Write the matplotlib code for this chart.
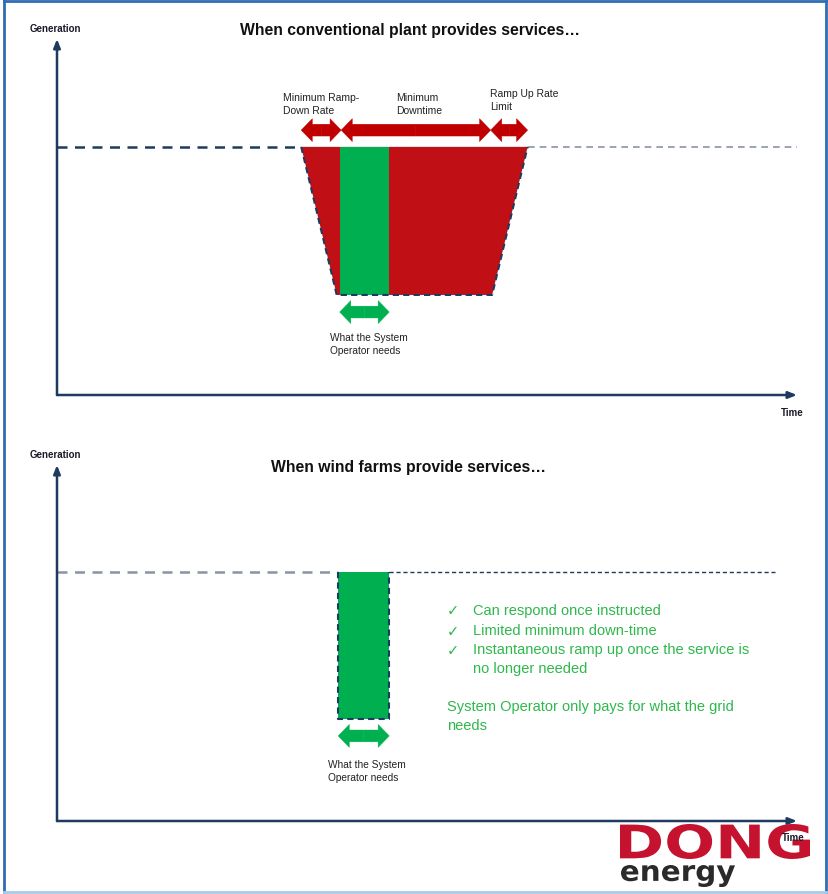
import matplotlib
matplotlib.use("Agg")
import matplotlib.pyplot as plt
from matplotlib.patches import FancyArrowPatch, Polygon, Rectangle, PathPatch
from matplotlib.textpath import TextPath
from matplotlib.font_manager import FontProperties
from matplotlib.transforms import Affine2D, IdentityTransform

plt.rcParams["font.family"] = ["Liberation Sans", "DejaVu Sans"]

W, H = 829, 895

# --- data (time 0..100, generation 0..100) ---
base_level = 69.7
low_level = 28.1
# conventional plant: trapezoid corners in time
conv_time = [33.0, 37.8, 58.8, 63.6]      # top-left, bottom-left, bottom-right, top-right
conv_service = [38.2, 44.9]               # what the system operator needs
conv_arrow_level = 74.4
conv_arrow_edges = [33.0, 38.4, 58.6, 63.6]
conv_labels = ["Minimum Ramp-\nDown Rate", "Minimum\nDowntime", "Ramp Up Rate\nLimit"]
conv_label_time = [30.6, 45.8, 58.5]
conv_label_gen = [81.9, 81.9, 83.0]

# wind farms
wind_level = 69.9
wind_low = 28.7
wind_service = [38.0, 44.9]
wind_base_end = 97.0
wind_points = ["Can respond once instructed",
               "Limited minimum down-time",
               "Instantaneous ramp up once the service is\nno longer needed"]
wind_point_gen = [59.3, 53.6, 45.6]
wind_check_gen = [59.3, 53.6, 48.3]
wind_note = "System Operator only pays for what the grid\nneeds"
wind_note_gen = 29.6

RED = "#C00000"
RED_FILL = "#C01016"
GREEN = "#00B050"
GREEN_TXT = "#2DB84C"
NAVY = "#1F3A5F"
GREY = "#8A93A5"


def px(x, y):
    return x / W, 1 - y / H


def make_axes(fig, top_px):
    left, bottom = px(57, top_px)
    ax = fig.add_axes([left, bottom, 740 / W, 356 / H])
    ax.set_xlim(0, 100)
    ax.set_ylim(0, 100)
    ax.axis("off")
    ax.annotate("", xy=(100, 0), xytext=(0, 0),
                arrowprops=dict(arrowstyle="-|>,head_length=0.5,head_width=0.2",
                                color=NAVY, lw=1.8, shrinkA=0, shrinkB=0))
    ax.annotate("", xy=(0, 100), xytext=(0, 0),
                arrowprops=dict(arrowstyle="-|>,head_length=0.5,head_width=0.2",
                                color=NAVY, lw=1.8, shrinkA=0, shrinkB=0))
    return ax


def block_arrow(ax, x0, x1, y, color, hw=16.5, tw=8.5, hl=8):
    mid = (x0 + x1) / 2
    for end in (x0, x1):
        ax.add_patch(FancyArrowPatch((mid, y), (end, y),
                                     arrowstyle="simple,head_width=%g,tail_width=%g,head_length=%g" % (hw, tw, hl),
                                     mutation_scale=1, color=color, lw=0.3, shrinkA=0, shrinkB=0,
                                     clip_on=False))


def fitted_text(fig, text, box, color, weight="bold"):
    # draw text as a path stretched into a pixel box (x0, y0, x1, y1), y from top
    tp = TextPath((0, 0), text, size=40, prop=FontProperties(family="DejaVu Sans", weight=weight))
    ext = tp.get_extents()
    x0, y0, x1, y1 = box
    sx = (x1 - x0) / ext.width
    sy = (y1 - y0) / ext.height
    tr = Affine2D().translate(-ext.x0, -ext.y0).scale(sx, sy).translate(x0, H - y1)
    fig.add_artist(PathPatch(tr.transform_path(tp), facecolor=color, edgecolor="none",
                             transform=IdentityTransform()))


fig = plt.figure(figsize=(W / 100, H / 100), dpi=100)
fig.patch.set_facecolor("white")

# ---------- top panel ----------
ax1 = make_axes(fig, 396)
tl, bl, br, tr = conv_time
ax1.add_patch(Polygon([(tl, base_level), (bl, low_level), (br, low_level), (tr, base_level)],
                      closed=True, facecolor=RED_FILL, edgecolor="none"))
ax1.add_patch(Rectangle((conv_service[0], low_level), conv_service[1] - conv_service[0],
                        base_level - low_level, facecolor=GREEN, edgecolor="none"))
ax1.plot([0, tl], [base_level, base_level], color=NAVY, lw=1.8, dashes=(4, 3))
ax1.plot([tr, 100], [base_level, base_level], color=GREY, lw=1.2, dashes=(4, 3))
ax1.plot([tl, bl, br, tr], [base_level, low_level, low_level, base_level],
         color=NAVY, lw=1.5, dashes=(3, 2))

for i in range(3):
    block_arrow(ax1, conv_arrow_edges[i], conv_arrow_edges[i + 1], conv_arrow_level, RED)
    ax1.text(conv_label_time[i], conv_label_gen[i], conv_labels[i], fontsize=7.5,
             ha="left", va="center", color="#222222", linespacing=1.4)

block_arrow(ax1, conv_service[0], conv_service[1], 23.3, GREEN)
ax1.text(36.9, 14.5, "What the System\nOperator needs", fontsize=7.3, ha="left",
         va="center", color="#222222", linespacing=1.4)

# ---------- bottom panel ----------
ax2 = make_axes(fig, 822)
ax2.add_patch(Rectangle((wind_service[0], wind_low), wind_service[1] - wind_service[0],
                        wind_level - wind_low, facecolor=GREEN, edgecolor="none"))
ax2.plot([0, wind_service[0]], [wind_level, wind_level], color=GREY, lw=1.8, dashes=(4, 3))
ax2.plot([wind_service[1], wind_base_end], [wind_level, wind_level], color=NAVY, lw=1.0, dashes=(3, 2))
ax2.plot([wind_service[0], wind_service[0], wind_service[1], wind_service[1]],
         [wind_level, wind_low, wind_low, wind_level], color=NAVY, lw=1.5, dashes=(3, 2))
block_arrow(ax2, wind_service[0], wind_service[1], 23.9, GREEN)
ax2.text(36.6, 14.2, "What the System\nOperator needs", fontsize=7.3, ha="left",
         va="center", color="#222222", linespacing=1.4)

for txt, g, gc in zip(wind_points, wind_point_gen, wind_check_gen):
    ax2.text(52.7, gc, "\u2713", fontsize=10.5, ha="left", va="center",
             color=GREEN_TXT, family=["DejaVu Sans"])
    ax2.text(56.2, g, txt, fontsize=10.5, ha="left", va="center",
             color=GREEN_TXT, linespacing=1.42)
ax2.text(52.7, wind_note_gen, wind_note, fontsize=10.5, ha="left", va="center",
         color=GREEN_TXT, linespacing=1.42)

# ---------- titles & axis labels ----------
fig.text(*px(410, 31), "When conventional plant provides services\u2026", fontsize=11.3,
         fontweight="bold", ha="center", va="center", color="#111111")
fig.text(*px(409, 468), "When wind farms provide services\u2026", fontsize=11.3,
         fontweight="bold", ha="center", va="center", color="#111111")
for y in (29, 455):
    fig.text(*px(30, y), "Generation", fontsize=7, fontweight="bold", ha="left",
             va="center", color="#1a1a2a")

# logo
fitted_text(fig, "DONG", (620, 825, 810, 860), "#C4122F")
fitted_text(fig, "energy", (621, 866, 735, 888), "#2a2a2a")

for y, x in ((413, 781), (838, 782)):
    fig.text(*px(x, y), "Time", fontsize=7, fontweight="bold", ha="left",
             va="center", color="#1a1a2a")

# frame
fig.add_artist(plt.Line2D([4 / W, 4 / W], [0, 1 - 2 / H], color="#2E6DB4", lw=2))
fig.add_artist(plt.Line2D([4 / W, 1 - 3 / W], [1 - 2 / H, 1 - 2 / H], color="#2E6DB4", lw=2))
fig.add_artist(plt.Line2D([1 - 3 / W, 1 - 3 / W], [0, 1 - 2 / H], color="#2E6DB4", lw=2))
fig.add_artist(plt.Line2D([4 / W, 1 - 3 / W], [2 / H, 2 / H], color="#A9CBE8", lw=2))

fig.savefig("out.png", dpi=100)
